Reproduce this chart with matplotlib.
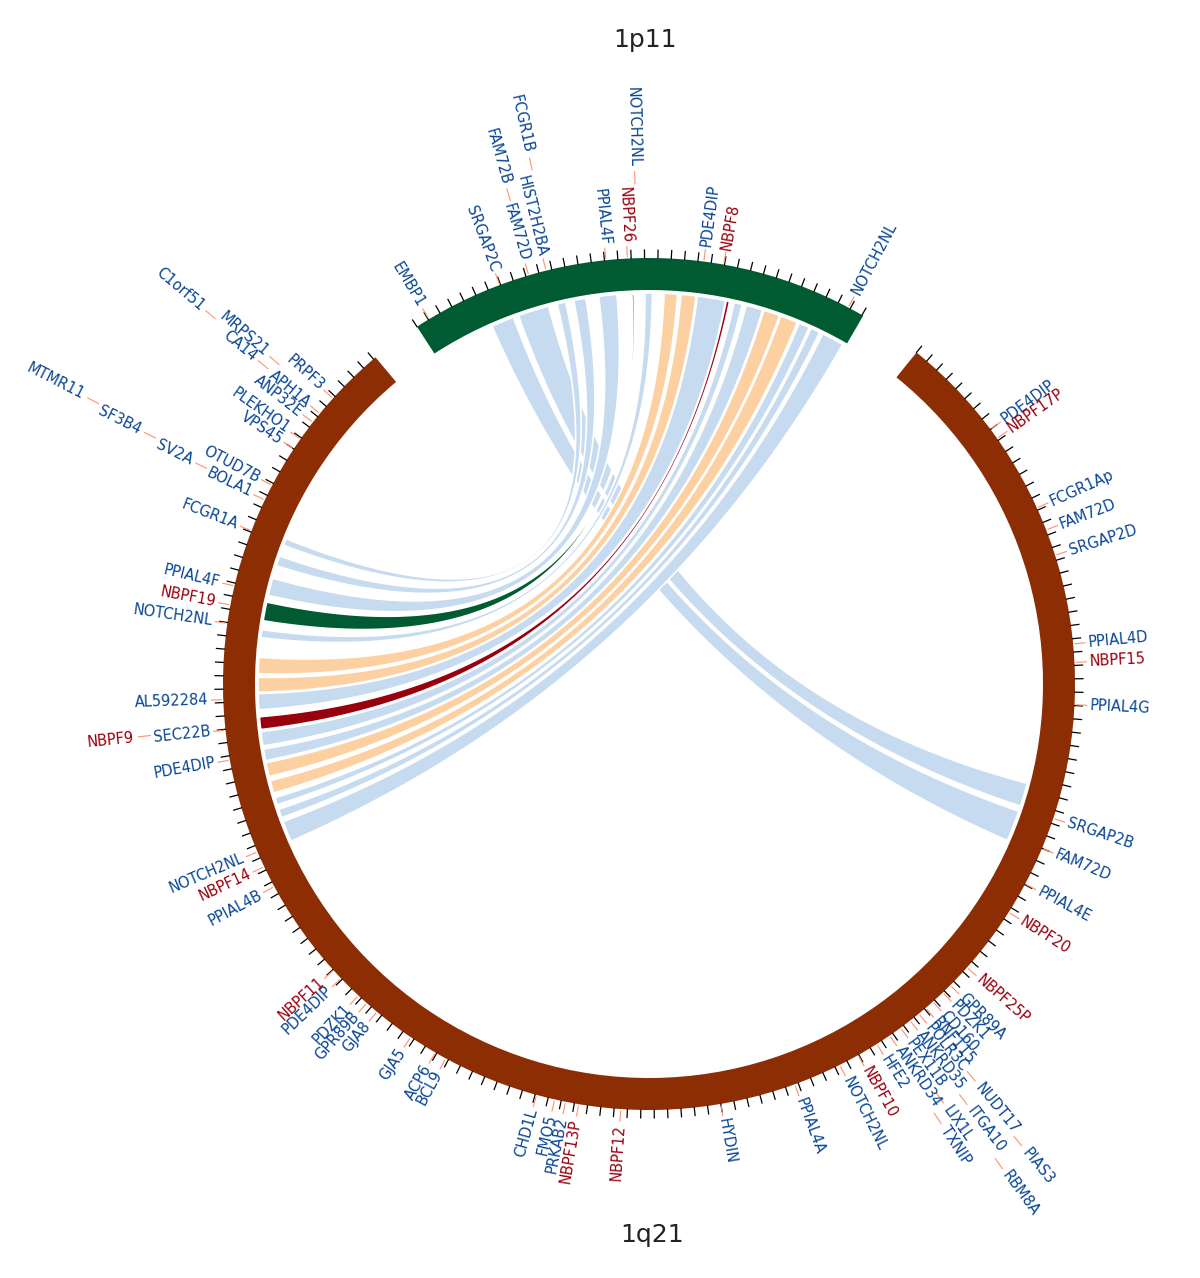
import numpy as np
import matplotlib.pyplot as plt
from matplotlib.patches import Wedge, Polygon
from matplotlib.textpath import TextPath
from matplotlib.font_manager import FontProperties

# two bands of chromosome 1, positions in Mb from the start of each band
band_names = ["1p11", "1q21"]
band_len = [3.51, 15.62]
band_colors = ["#005a32", "#8c2d04"]

# gene labels: names stacked outward from the ring, and their positions on the band
p11_label_names = [["EMBP1"], ["SRGAP2C"], ["FAM72D", "FAM72B"],
                   ["HIST2H2BA", "FCGR1B"], ["PPIAL4F"], ["NBPF26", "NOTCH2NL"],
                   ["PDE4DIP"], ["NBPF8"], ["NOTCH2NL"]]
p11_label_pos = [[0.106], [0.694], [0.922, 0.944], [1.056, 1.122], [1.511],
                 [1.672, 1.744], [2.244], [2.394], [3.383]]

q21_label_names = [["PDE4DIP"], ["NBPF17P"], ["FCGR1Ap"], ["FAM72D"], ["SRGAP2D"],
                   ["PPIAL4D"], ["NBPF15"], ["PPIAL4G"], ["SRGAP2B"], ["FAM72D"],
                   ["PPIAL4E"], ["NBPF20"], ["NBPF25P"], ["GPR89A"], ["PDZK1"],
                   ["CD160"], ["RNF115"], ["POLR3C", "NUDT17", "PIAS3"],
                   ["ANKRD35", "ITGA10", "RBM8A"], ["PEX11B", "LIX1L"],
                   ["ANKRD34", "TXNIP"], ["HFE2"], ["NBPF10"], ["NOTCH2NL"],
                   ["PPIAL4A"], ["HYDIN"], ["NBPF12"], ["NBPF13P"], ["PRKAB2"],
                   ["FMO5"], ["CHD1L"], ["BCL9"], ["ACP6"], ["GJA5"], ["GJA8"],
                   ["GPR89B"], ["PDZK1"], ["PDE4DIP"], ["NBPF11"], ["PPIAL4B"],
                   ["NBPF14"], ["NOTCH2NL"], ["PDE4DIP"], ["SEC22B", "NBPF9"],
                   ["AL592284"], ["NOTCH2NL"], ["NBPF19"], ["PPIAL4F"], ["FCGR1A"],
                   ["BOLA1", "SV2A", "SF3B4", "MTMR11"], ["OTUD7B"], ["VPS45"],
                   ["PLEKHO1"], ["ANP32E"], ["APH1A", "CA14"],
                   ["PRPF3", "MRPS21", "C1orf51"]]
q21_label_pos = [[0.80], [0.883], [1.483], [1.661], [1.861], [2.539], [2.678],
                 [2.994], [3.861], [4.10], [4.394], [4.639], [5.156], [5.339],
                 [5.417], [5.517], [5.589], [5.656, 5.650, 5.678],
                 [5.739, 5.778, 5.833], [5.828, 5.889], [5.928, 5.972], [6.044],
                 [6.206], [6.361], [6.728], [7.30], [8.050], [8.367], [8.467],
                 [8.550], [8.689], [9.422], [9.511], [9.728], [10.044], [10.144],
                 [10.228], [10.411], [10.494], [11.261], [11.428], [11.550],
                 [12.267], [12.494, 12.511], [12.722], [13.294], [13.433],
                 [13.578], [14.011], [14.261, 14.283, 14.311, 14.339], [14.383],
                 [14.700], [14.789], [14.944], [15.028, 15.039],
                 [15.178, 15.106, 15.067]]

# links between 1p11 and 1q21 (start, end in Mb on each band)
links_p11 = [(0.517, 0.706), (0.75, 1.006), (1.078, 1.15), (1.217, 1.317),
             (1.422, 1.572), (1.694, 1.711), (1.80, 1.861), (1.956, 2.067),
             (2.094, 2.217), (2.228, 2.461), (2.467, 2.494), (2.533, 2.60),
             (2.633, 2.772), (2.783, 2.917), (2.928, 3.072), (3.089, 3.178),
             (3.194, 3.272), (3.30, 3.483)]
links_q21 = [(3.894, 4.15), (3.656, 3.85), (13.994, 14.05), (13.817, 13.90),
             (13.567, 13.711), (13.356, 13.511), (13.217, 13.283), (12.922, 13.056),
             (12.772, 12.894), (12.628, 12.761), (12.467, 12.572), (12.333, 12.45),
             (12.211, 12.306), (12.078, 12.194), (11.939, 12.044), (11.839, 11.90),
             (11.728, 11.80), (11.522, 11.694)]
link_kind = ["b", "b", "b", "b", "b", "g", "b", "o", "o", "b", "r", "b",
             "b", "o", "o", "b", "b", "b"]

kind_color = {"b": "#c6dbef", "o": "#fdd0a2", "g": "#005a32", "r": "#99000d"}
kind_z = {"b": 1, "o": 2, "g": 3, "r": 3}

# layout (pixel units, clockwise degrees from 12 o'clock)
band_start = [-33.0, 38.9]
DEG_PER_MB = 18.0
R_OUT = 426
R_IN = 394
R_LINK = 391
FS = 10.5
fp = FontProperties(family="DejaVu Sans", size=FS)


def ang(band, pos):
    return band_start[band] + pos * DEG_PER_MB


def xy(a, r):
    t = np.radians(90 - np.asarray(a))
    return r * np.cos(t), r * np.sin(t)


def text_px(s):
    return TextPath((0, 0), s, size=FS, prop=fp).get_extents().width * 100 / 72


fig = plt.figure(figsize=(12, 12.78), dpi=100)
ax = fig.add_axes([0, 0, 1, 1])
ax.set_xlim(-649, 551)
ax.set_ylim(-594, 684)
ax.set_aspect("equal")
ax.axis("off")

# bands and ticks
for b in range(2):
    a0, a1 = ang(b, 0), ang(b, band_len[b])
    ax.add_patch(Wedge((0, 0), R_OUT, 90 - a1, 90 - a0, width=R_OUT - R_IN,
                       facecolor=band_colors[b], edgecolor="none", zorder=4))
    for p in np.arange(0, band_len[b] + 1e-6, 0.1):
        x, y = xy([ang(b, p)] * 2, np.array([R_OUT, R_OUT + 8]))
        ax.plot(x, y, color="black", lw=0.9, zorder=4)


# links
def bez(p0, p2, n=80):
    t = np.linspace(0, 1, n)[:, None]
    return (1 - t) ** 2 * np.array(p0) + t ** 2 * np.array(p2)


for (s1, e1), (s2, e2), k in zip(links_p11, links_q21, link_kind):
    a1s, a1e = ang(0, s1), ang(0, e1)
    b_s, b_e = ang(1, s2), ang(1, e2)
    arc1 = np.column_stack(xy(np.linspace(a1s, a1e, 20), R_LINK))
    arc2 = np.column_stack(xy(np.linspace(b_s, b_e, 20), R_LINK))
    c1 = bez(arc1[-1], arc2[0])
    c2 = bez(arc2[-1], arc1[0])
    pts = np.vstack([arc1, c1, arc2, c2])
    ax.add_patch(Polygon(pts, closed=True, facecolor=kind_color[k],
                         edgecolor="white", lw=1.2, zorder=kind_z[k]))

# gene labels, chained outward when crowded
for b, all_pos, all_names in [(0, p11_label_pos, p11_label_names),
                              (1, q21_label_pos, q21_label_names)]:
    for poss, chain in zip(all_pos, all_names):
        r = R_OUT + 2
        for i, (pos, name) in enumerate(zip(poss, chain)):
            a = ang(b, pos)
            theta = 90 - a
            right = 0 < (a % 360) < 180
            rot = theta if right else theta + 180
            ha = "left" if right else "right"
            col = "#99000d" if name.startswith("NBPF") else "#084594"
            if i == 0:
                lead = (r, r + 10)
                r += 13
            else:
                lead = (r + 5, r + 17)
                r += 22
            x, y = xy([a, a], np.array(lead))
            ax.plot(x, y, color="#fc9272", lw=0.8, zorder=5)
            tx, ty = xy(a, r)
            ax.text(tx, ty, name, rotation=rot, rotation_mode="anchor",
                    ha=ha, va="center", fontsize=FS, color=col, zorder=6)
            r += text_px(name)

ax.text(-4, 644, band_names[0], ha="center", va="center", fontsize=18, color="#222222")
ax.text(3, -551, band_names[1], ha="center", va="center", fontsize=18, color="#222222")

fig.savefig("out.png", dpi=100)
